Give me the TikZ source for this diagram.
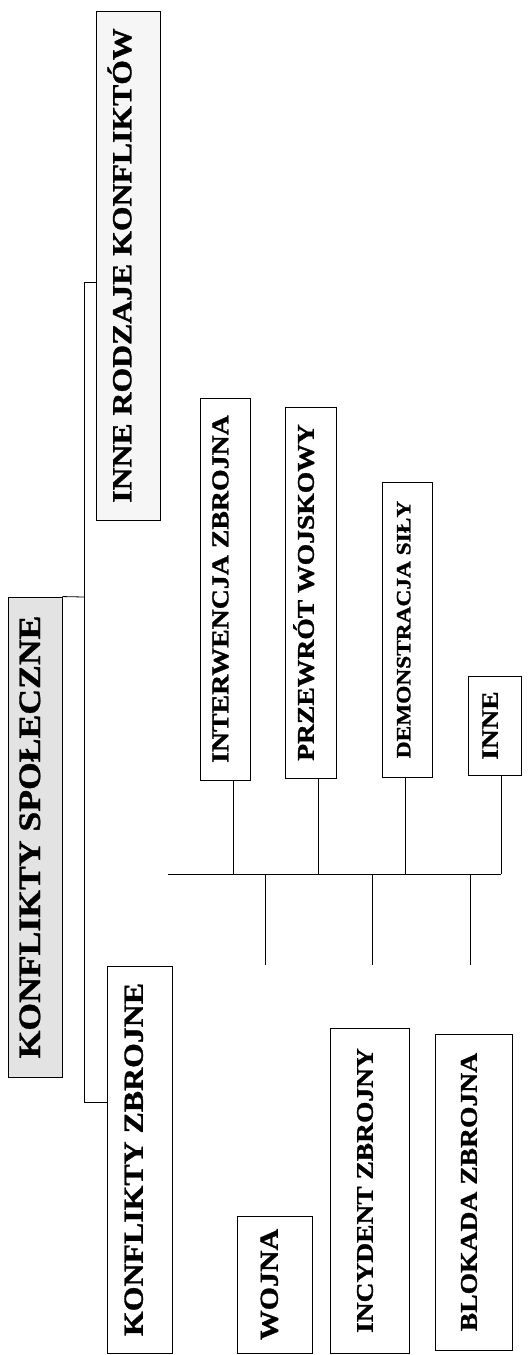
\documentclass[tikz,border=0pt]{standalone}
\usepackage{fontspec}
\setmainfont{Liberation Serif}[FakeStretch=1.15, BoldFeatures={FakeStretch=1.15, FakeBold=1.2}]
\begin{document}
\begin{tikzpicture}[x=1pt,y=-1pt]
\tikzset{
  box/.style={draw, line width=0.9pt, rotate=90, inner sep=0pt, text height=0.66em, text depth=0pt},
  link/.style={line width=0.8pt},
}
\useasboundingbox (0,0) rectangle (531,1355);
% level 0 and 1
\node[box, fill=gray!22, minimum width=480pt, minimum height=54pt, text height=1.0em,
      font=\bfseries\fontsize{31}{31}\selectfont] (root) at (35,837) {KONFLIKTY SPOŁECZNE};
\node[box, fill=gray!7, minimum width=509pt, minimum height=64pt,
      font=\bfseries\fontsize{27.6}{28}\selectfont] (ir) at (128,265.5) {INNE RODZAJE KONFLIKTÓW};
\node[box, minimum width=387pt, minimum height=65pt,
      font=\bfseries\fontsize{27.7}{28}\selectfont] (kz) at (139.5,1159.5) {KONFLIKTY ZBROJNE};
% upper row
\node[box, minimum width=382pt, minimum height=50pt,
      font=\bfseries\fontsize{24.2}{25}\selectfont] (intv) at (225,589) {INTERWENCJA ZBROJNA};
\node[box, minimum width=371pt, minimum height=51pt,
      font=\bfseries\fontsize{24}{25}\selectfont] (prz) at (310.5,592.5) {PRZEWRÓT WOJSKOWY};
\node[box, minimum width=295pt, minimum height=50pt,
      font=\bfseries\fontsize{20.3}{21}\selectfont] (demo) at (407,629.5) {DEMONSTRACJA SIŁY};
\node[box, minimum width=99pt, minimum height=53pt,
      font=\bfseries\fontsize{23.7}{24}\selectfont] (inne) at (494.5,725.5) {INNE};
% lower row
\node[box, minimum width=137pt, minimum height=75pt,
      font=\bfseries\fontsize{26}{26}\selectfont] (woj) at (274.5,1284.5) {WOJNA};
\node[box, minimum width=325pt, minimum height=79pt,
      font=\bfseries\fontsize{23.9}{24}\selectfont] (inc) at (369.5,1190.5) {INCYDENT ZBROJNY};
\node[box, minimum width=316pt, minimum height=77pt,
      font=\bfseries\fontsize{24}{24}\selectfont] (blo) at (473.5,1192) {BLOKADA ZBROJNA};
% main spine
\coordinate (sp) at (84,597);
\coordinate (sptop) at (84,282);
\coordinate (spbot) at (84,1102);
\draw[link] (root.south east) -- (sp);
\draw[link] (sptop) -- (spbot);
\draw[link] (sptop) -- (sptop -| ir.north);
\draw[link] (spbot) -- (spbot -| kz.north);
% bar of the sub-kinds
\coordinate (barL) at (168,874);
\coordinate (j1) at (233,874);
\coordinate (j2) at (318,874);
\coordinate (j3) at (405,874);
\coordinate (j4) at (501,874);
\coordinate (d1) at (265,874);
\coordinate (d2) at (372,874);
\coordinate (d3) at (470,874);
\coordinate (e1) at (265,965);
\coordinate (e2) at (372,965);
\coordinate (e3) at (470,965);
\draw[link] (barL) -- (j4);
\draw[link] (j1) -- (j1 |- intv.west);
\draw[link] (j2) -- (j2 |- prz.west);
\draw[link] (j3) -- (j3 |- demo.west);
\draw[link] (j4) -- (j4 |- inne.west);
\draw[link] (d1) -- (e1);
\draw[link] (d2) -- (e2);
\draw[link] (d3) -- (e3);
\end{tikzpicture}
\end{document}
